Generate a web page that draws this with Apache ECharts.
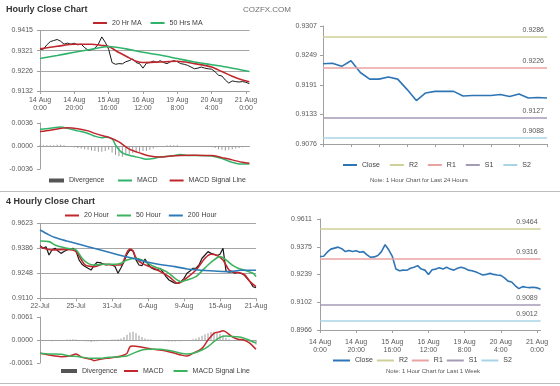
<!DOCTYPE html>
<html><head><meta charset="utf-8">
<script src="https://cdn.jsdelivr.net/npm/echarts@6/dist/echarts.min.js"></script>
<style>html,body{margin:0;padding:0;background:#fff}#c{width:560px;height:386px}</style>
</head><body><div id="c"></div>
<script>
// ---------- DATA ----------
// Hourly (1 week, 2-hour points) — used by top-left chart and bottom-right chart
const weekTicks = ['14 Aug\n0:00','14 Aug\n20:00','15 Aug\n16:00','16 Aug\n12:00','19 Aug\n8:00','20 Aug\n4:00','21 Aug\n0:00'];
const weekStep = 10;
const closeWeek = [0.9327,0.9328,0.9348,0.9363,0.9368,0.9373,0.9365,0.9351,0.9356,0.9351,
  0.9355,0.9348,0.9351,0.9335,0.9323,0.9325,0.9332,0.9351,0.9385,0.9360,
  0.9327,0.9265,0.9257,0.9260,0.9259,0.9269,0.9274,0.9282,0.9265,0.9260,
  0.9239,0.9262,0.9265,0.9272,0.9265,0.9274,0.9265,0.9260,0.9269,0.9274,
  0.9269,0.9260,0.9257,0.9252,0.9244,0.9236,0.9239,0.9244,0.9239,0.9236,
  0.9234,0.9222,0.9206,0.9202,0.9183,0.9169,0.9179,0.9176,0.9174,0.9176,
  0.9173,0.9166];
const ma20Hr = [[0,0.9329],[5,0.9341],[10,0.9351],[15,0.9351],[18,0.9345],[20,0.9340],[23,0.9312],[26,0.9287],[28,0.9271],[30,0.9265],[35,0.9268],[40,0.9271],[45,0.9260],[48,0.9252],[50,0.9244],[53,0.9223],[56,0.9201],[59,0.9183],[61,0.9175]];
const ma50Hr = [[0,0.9284],[5,0.9298],[10,0.9313],[15,0.9327],[20,0.9340],[25,0.9329],[30,0.9313],[35,0.9300],[40,0.9284],[45,0.9268],[50,0.9255],[55,0.9242],[61,0.9223]];
const macdHr = [[0,0.00261],[3,0.00276],[6,0.00296],[8,0.00276],[11,0.00237],[14,0.00197],[16,0.00153],[18,0.00128],[19,0.00138],[21,0.00113],[22,0.00015],[24,-0.00108],[27,-0.00158],[29,-0.00182],[31,-0.00207],[33,-0.00197],[35,-0.00173],[38,-0.00158],[41,-0.00133],[43,-0.00148],[47,-0.00148],[50,-0.00158],[53,-0.00197],[56,-0.00256],[58,-0.00281],[61,-0.00281]];
const signalHr = [[0,0.00227],[3,0.00247],[8,0.00286],[11,0.00271],[14,0.00237],[16,0.00197],[18,0.00163],[20,0.00138],[23,0.00064],[26,-0.00049],[29,-0.00108],[32,-0.00158],[35,-0.00173],[38,-0.00158],[41,-0.00148],[44,-0.00143],[47,-0.00148],[50,-0.00148],[53,-0.00182],[56,-0.00217],[59,-0.00256],[61,-0.00271]];
const divHr = [0.0001,0.0001,0.0001,0.0001,0.0001,0.0002,0.0002,0.0001,0.0000,-0.0001,
  -0.0002,-0.0003,-0.0004,-0.0005,-0.0006,-0.0007,-0.0008,-0.0009,-0.0009,-0.0008,
  -0.0006,-0.0010,-0.0014,-0.0016,-0.0017,-0.0015,-0.0013,-0.0011,-0.0010,-0.0009,
  -0.0008,-0.0008,-0.0006,-0.0004,-0.0002,-0.0001,0.0000,0.0001,0.0001,0.0001,
  0.0001,0.0000,0.0000,0.0000,-0.0001,-0.0001,0.0000,0.0000,-0.0001,-0.0001,
  -0.0002,-0.0003,-0.0005,-0.0006,-0.0007,-0.0006,-0.0005,-0.0004,-0.0003,-0.0002,
  -0.0001,-0.0001];
const hourlyTicksY = ['0.9132','0.9226','0.9321','0.9415'];
const macdHrTicksY = ['-0.0036','0.0000','0.0036'];
const weekTicksY = ['0.8966','0.9102','0.9239','0.9375','0.9611'];
const weekLevels = [0.9464,0.9316,0.9089,0.9012];

// 24 hours
const dayHours = ['3:00','4:00','5:00','6:00','7:00','8:00','9:00','10:00','11:00','12:00','13:00','14:00','15:00','16:00','17:00','18:00','19:00','20:00','21:00','22:00','23:00','0:00','1:00','2:00','3:00'];
const closeDay = [0.9233,0.9234,0.9228,0.9239,0.9216,0.9203,0.9203,0.9207,0.9203,0.9183,0.9161,0.9176,0.9179,0.9179,0.9179,0.9170,0.9171,0.9171,0.9171,0.9173,0.9169,0.9174,0.9166,0.9167,0.9166];
const dayTicksY = ['0.9076','0.9133','0.9191','0.9249','0.9307'];
const dayLevels = [0.9286,0.9226,0.9127,0.9088];
const levelNames = ['R2','R1','S1','S2'];

// 4 hourly
const fourTicks = ['22-Jul','25-Jul','31-Jul','6-Aug','9-Aug','15-Aug','21-Aug'];
const fourStep = 12;
const close4h = [0.9401,0.9386,0.9395,0.9349,0.9377,0.9386,0.9371,0.9358,0.9368,0.9377,
  0.9382,0.9386,0.9371,0.9322,0.9298,0.9285,0.9276,0.9266,0.9290,0.9309,
  0.9307,0.9300,0.9294,0.9298,0.9294,0.9285,0.9248,0.9279,0.9312,0.9353,
  0.9377,0.9371,0.9322,0.9294,0.9290,0.9327,0.9298,0.9279,0.9270,0.9266,
  0.9276,0.9254,0.9230,0.9211,0.9202,0.9193,0.9193,0.9202,0.9220,0.9248,
  0.9261,0.9276,0.9276,0.9294,0.9331,0.9349,0.9368,0.9358,0.9353,0.9346,
  0.9353,0.9386,0.9261,0.9254,0.9257,0.9248,0.9254,0.9248,0.9239,0.9220,
  0.9202,0.9174,0.9169];
const ma20_4h = [[0,0.9395],[4,0.9377],[9,0.9380],[12,0.9368],[15,0.9294],[18,0.9285],[21,0.9298],[25,0.9294],[27,0.9294],[28,0.9322],[29,0.9364],[30,0.9382],[31,0.9371],[32,0.9334],[34,0.9303],[38,0.9276],[43,0.9230],[46,0.9193],[48,0.9211],[52,0.9266],[55,0.9331],[57,0.9353],[59,0.9346],[61,0.9322],[63,0.9266],[65,0.9254],[68,0.9243],[70,0.9202],[72,0.9174]];
const ma50_4h = [[0,0.9426],[3,0.9423],[5,0.9404],[9,0.9386],[12,0.9377],[14,0.9331],[16,0.9303],[18,0.9294],[21,0.9298],[25,0.9298],[27,0.9303],[29,0.9322],[32,0.9331],[34,0.9322],[36,0.9303],[38,0.9285],[41,0.9266],[43,0.9248],[45,0.9220],[47,0.9202],[49,0.9211],[52,0.9230],[54,0.9261],[56,0.9294],[58,0.9322],[60,0.9340],[62,0.9322],[64,0.9294],[66,0.9276],[68,0.9266],[71,0.9248],[72,0.9230]];
const ma200_4h = [[0,0.9487],[3,0.9460],[5,0.9445],[9,0.9426],[14,0.9404],[18,0.9386],[23,0.9364],[27,0.9346],[32,0.9327],[36,0.9309],[41,0.9294],[45,0.9285],[49,0.9272],[54,0.9265],[58,0.9261],[63,0.9257],[67,0.9265],[72,0.9265]];
const macd4h = [[0,-0.00354],[3,-0.00398],[7,-0.00442],[10,-0.00424],[12,-0.00371],[14,-0.0046],[17,-0.00513],[18,-0.00548],[20,-0.00513],[22,-0.00486],[25,-0.0046],[27,-0.00424],[28,-0.00398],[29,-0.00354],[30,-0.00177],[31,-0.00159],[34,-0.00194],[36,-0.00221],[38,-0.00248],[40,-0.00265],[42,-0.00292],[45,-0.00354],[47,-0.00398],[49,-0.00424],[51,-0.00354],[54,-0.00221],[56,0],[58,0.00177],[60,0.00221],[61,0.00248],[64,0.00088],[66,0.00018],[68,0],[70,-0.00088],[72,-0.00248]];
const signal4h = [[0,-0.00354],[3,-0.00371],[7,-0.0038],[10,-0.00424],[13,-0.00442],[17,-0.00486],[20,-0.00486],[23,-0.0046],[27,-0.00442],[29,-0.00424],[31,-0.00354],[34,-0.00265],[36,-0.00248],[40,-0.00248],[42,-0.00265],[45,-0.00309],[47,-0.00354],[49,-0.00371],[51,-0.00354],[54,-0.00265],[56,-0.00177],[58,-0.00044],[60,0.00071],[62,0.00106],[65,0.00088],[67,0.00071],[69,0.00018],[72,-0.0008]];
const div4h = [-0.0001,-0.0001,-0.0002,-0.0002,-0.0003,-0.0002,-0.0002,-0.0001,0.0000,0.0001,
  0.0001,0.0002,0.0001,-0.0001,-0.0002,-0.0003,-0.0004,-0.0005,-0.0004,-0.0003,
  -0.0002,-0.0002,-0.0001,0.0000,0.0001,0.0001,0.0002,0.0004,0.0008,0.0014,
  0.0020,0.0022,0.0018,0.0012,0.0008,0.0004,0.0002,0.0001,0.0000,-0.0001,
  -0.0001,-0.0002,-0.0003,-0.0004,-0.0004,-0.0004,-0.0003,-0.0003,-0.0002,-0.0001,
  0.0000,0.0002,0.0004,0.0007,0.0011,0.0015,0.0018,0.0021,0.0022,0.0020,
  0.0016,0.0012,0.0006,0.0002,0.0000,-0.0001,-0.0001,-0.0002,-0.0003,-0.0004,
  -0.0006,-0.0008,-0.0012];
const fourTicksY = ['0.9110','0.9248','0.9386','0.9623'];
const macd4hTicksY = ['-0.0061','0.0000','0.0061'];

// ---------- STYLE ----------
const FONT = "'Liberation Sans', Arial, sans-serif";
const TXT = '#595959';
const AX = '#a0a0a0';
const levelColors = ['#cfcf98','#e9a3a3','#a49bb6','#a8d4e4'];

const idx = n => Array.from({length:n}, (_, i) => i);

function catX(grid, n, step, ticks, opts) {
  opts = opts || {};
  return {
    gridIndex: grid, type: 'category', boundaryGap: false, data: idx(n),
    axisLine: {show: true, lineStyle: {color: AX}},
    axisTick: {show: opts.tick !== false, interval: step - 1, length: 3, lineStyle: {color: AX}},
    axisLabel: {show: !!ticks, interval: step - 1, fontSize: 7, lineHeight: 8, color: TXT, fontFamily: FONT,
      margin: opts.margin || 5, formatter: (v, i) => ticks ? (ticks[Math.round(i / step)] || '') : ''},
    splitLine: {show: false}
  };
}
function valY(grid, ticks, min, max, opts) {
  opts = opts || {};
  const step = (max - min) / (ticks.length - 1);
  return {
    gridIndex: grid, type: 'value', min: min, max: max, interval: step,
    axisLine: {show: true, lineStyle: {color: AX}},
    axisTick: {show: true, length: 3, lineStyle: {color: AX}},
    splitLine: {show: !!opts.grid, lineStyle: {color: '#a6a6a6', width: 1}},
    axisLabel: {fontSize: 7, color: TXT, fontFamily: FONT, margin: opts.margin || 7, hideOverlap: true,
      formatter: v => ticks[Math.round((v - min) / step)] || ''}
  };
}
function line(name, x, y, data, color, width, extra) {
  return Object.assign({name: name, type: 'line', xAxisIndex: x, yAxisIndex: y, data: data,
    symbol: 'none', lineStyle: {color: color, width: width}, itemStyle: {color: color}, animation: false}, extra || {});
}
function levelSeries(suffix, x, y, values) {
  return levelNames.map((n, k) => ({
    name: n + suffix, type: 'line', xAxisIndex: x, yAxisIndex: y, data: [], symbol: 'none',
    lineStyle: {color: levelColors[k], width: 1.5}, itemStyle: {color: levelColors[k]}, animation: false,
    markLine: {symbol: 'none', silent: true, animation: false, precision: 4,
      lineStyle: {color: levelColors[k], width: 1.5, type: 'solid'},
      label: {position: 'insideEndTop', distance: 3, fontSize: 7, color: TXT, fontFamily: FONT,
        formatter: p => Number(p.value).toFixed(4)},
      data: [{yAxis: values[k]}]}
  }));
}
const legendBase = (extra) => Object.assign({padding: 0, itemWidth: 14, itemHeight: 2, icon: 'rect',
  textStyle: {fontSize: 7, color: '#404040', fontFamily: FONT}, formatter: n => n.trim(),
  selectedMode: false}, extra);

const option = {
  backgroundColor: '#fff',
  animation: false,
  grid: [
    {left: 40, top: 30.5, width: 209.4, height: 60.5},
    {left: 40, top: 123, width: 209.4, height: 46},
    {left: 323, top: 26, width: 224, height: 118},
    {left: 40, top: 223.3, width: 216, height: 75},
    {left: 40, top: 317, width: 216, height: 46},
    {left: 320, top: 219, width: 220.6, height: 111}
  ],
  xAxis: [
    catX(0, closeWeek.length, weekStep, weekTicks, {margin: 5}),
    catX(1, divHr.length, weekStep, null, {tick: false}),
    catX(2, dayHours.length, 3, null, {margin: 9}),
    catX(3, close4h.length, fourStep, fourTicks, {margin: 4}),
    catX(4, div4h.length, fourStep, null, {tick: false}),
    catX(5, closeWeek.length, weekStep, weekTicks, {margin: 8})
  ],
  yAxis: [
    valY(0, hourlyTicksY, 0.9132, 0.9415, {grid: true}),
    valY(1, macdHrTicksY, -0.0036, 0.0036),
    valY(2, dayTicksY, 0.9076, 0.9307, {margin: 6}),
    valY(3, fourTicksY, 0.9110, 0.9524, {grid: true}),
    valY(4, macd4hTicksY, -0.0061, 0.0061),
    valY(5, weekTicksY, 0.8966, 0.9511, {margin: 8})
  ],
  legend: [
    legendBase({left: 93, top: 19.5, itemGap: 9, data: ['20 Hr MA', '50 Hrs MA']}),
    legendBase({left: 49, top: 177, itemWidth: 15, itemHeight: 4, data: [{name: 'Divergence', itemStyle: {color: '#555'}}]}),
    legendBase({left: 118, top: 177, itemGap: 12, data: ['MACD', 'MACD Signal Line']}),
    legendBase({left: 343, top: 161.5, itemGap: 10, data: ['Close', 'R2', 'R1', 'S1', 'S2']}),
    legendBase({left: 65, top: 212, itemGap: 8, data: ['20 Hour', '50 Hour', '200 Hour']}),
    legendBase({left: 61, top: 367.5, itemWidth: 16, itemHeight: 4, data: [{name: 'Divergence ', itemStyle: {color: '#555'}}]}),
    legendBase({left: 124, top: 367.5, itemGap: 10, data: ['MACD ', 'MACD Signal Line ']}),
    legendBase({left: 333, top: 357, itemGap: 4, itemWidth: 17, data: ['Close ', 'R2 ', 'R1 ', 'S1 ', 'S2 ']})
  ],
  graphic: [
    {type: 'text', left: 6, top: 5, style: {text: 'Hourly Close Chart', font: 'bold 9px ' + FONT, fill: '#333'}},
    {type: 'text', left: 243, top: 5.5, style: {text: 'COZFX.COM', font: '8px ' + FONT, fill: '#707070'}},
    {type: 'text', left: 6, top: 197, style: {text: '4 Hourly Close Chart', font: 'bold 9px ' + FONT, fill: '#333'}},
    {type: 'text', x: 419, y: 180, style: {text: 'Note: 1 Hour Chart for Last 24 Hours', font: '6px ' + FONT, fill: '#555', align: 'center', verticalAlign: 'middle'}},
    {type: 'text', x: 433, y: 371, style: {text: 'Note: 1 Hour Chart for Last 1 Week', font: '6px ' + FONT, fill: '#555', align: 'center', verticalAlign: 'middle'}},
    {type: 'line', shape: {x1: 0, y1: 191.5, x2: 560, y2: 191.5}, style: {stroke: '#bdbdbd', lineWidth: 1}},
    {type: 'line', shape: {x1: 0, y1: 383.5, x2: 560, y2: 383.5}, style: {stroke: '#bdbdbd', lineWidth: 1}}
  ],
  series: [
    line('Hourly Close', 0, 0, closeWeek, '#1a1a1a', 1),
    line('20 Hr MA', 0, 0, ma20Hr, '#c0272d', 1.6, {smooth: 0.3}),
    line('50 Hrs MA', 0, 0, ma50Hr, '#2fb36b', 1.6, {smooth: 0.3}),
    {name: 'Divergence', type: 'bar', xAxisIndex: 1, yAxisIndex: 1, data: divHr, barWidth: 1,
      itemStyle: {color: '#9a9a9a'}, animation: false},
    line('MACD', 1, 1, macdHr, '#2fb36b', 1.5, {smooth: 0.3}),
    line('MACD Signal Line', 1, 1, signalHr, '#c0272d', 1.5, {smooth: 0.3}),
    line('Close', 2, 2, closeDay, '#2f75b5', 1.6),
    ...levelSeries('', 2, 2, dayLevels),
    line('4h Close', 3, 3, close4h, '#1a1a1a', 1.2),
    line('20 Hour', 3, 3, ma20_4h, '#c4262e', 1.6, {smooth: 0.3}),
    line('50 Hour', 3, 3, ma50_4h, '#3db35d', 1.6, {smooth: 0.3}),
    line('200 Hour', 3, 3, ma200_4h, '#2e7ab8', 1.6, {smooth: 0.3}),
    {name: 'Divergence ', type: 'bar', xAxisIndex: 4, yAxisIndex: 4, data: div4h, barWidth: 1,
      itemStyle: {color: '#9a9a9a'}, animation: false},
    line('MACD ', 4, 4, macd4h, '#c4262e', 1.5, {smooth: 0.3}),
    line('MACD Signal Line ', 4, 4, signal4h, '#3db35d', 1.5, {smooth: 0.3}),
    line('Close ', 5, 5, closeWeek, '#2f75b5', 1.6),
    ...levelSeries(' ', 5, 5, weekLevels)
  ]
};
const chart = echarts.init(document.getElementById('c'), null, {renderer: 'canvas'});
chart.setOption(option);
</script></body></html>
